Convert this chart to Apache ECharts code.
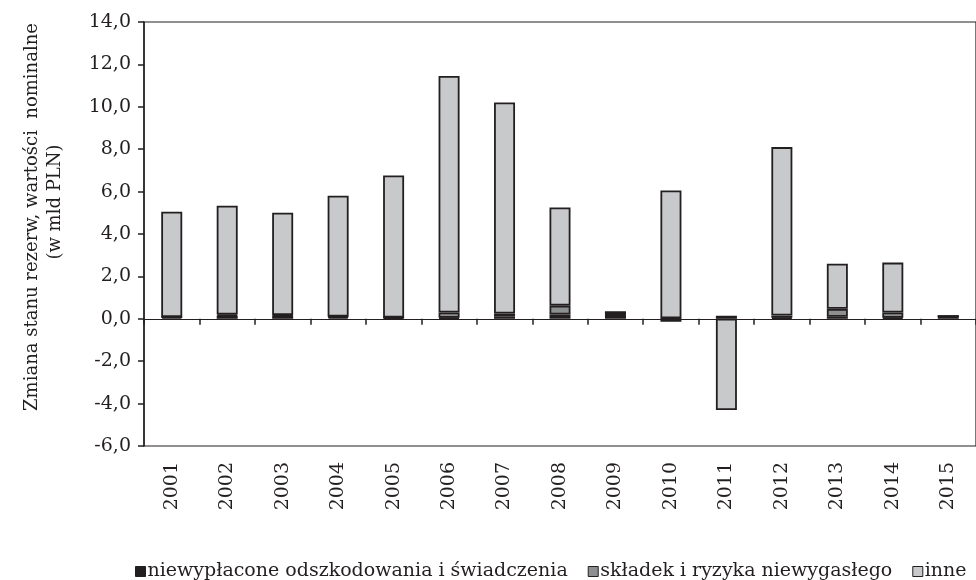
<!DOCTYPE html>
<html>
<head>
<meta charset="utf-8">
<script src="https://cdn.jsdelivr.net/npm/echarts@6/dist/echarts.min.js"></script>
<style>
html,body{margin:0;padding:0;background:#fff;}
#chart{width:976px;height:580px;}
</style>
</head>
<body>
<div id="chart"></div>
<script>
const years = ['2001','2002','2003','2004','2005','2006','2007','2008','2009','2010','2011','2012','2013','2014','2015'];
const niewyplacone = [0.08, 0.15, 0.15, 0.08, 0.06, 0.05, 0.10, 0.20, 0.30, 0.02, 0.10, 0.05, 0.10, 0.05, 0.13];
const skladek = [0.00, 0.05, 0.03, 0.03, 0.00, 0.25, 0.15, 0.42, 0.00, -0.14, 0.00, 0.10, 0.37, 0.25, 0.00];
const inne = [4.97, 5.13, 4.82, 5.70, 6.70, 11.15, 9.95, 4.63, 0.00, 6.03, -4.30, 7.95, 2.13, 2.35, 0.00];
const seriesNames = ['niewypłacone odszkodowania i świadczenia', 'składek i ryzyka niewygasłego', 'inne'];
const yTitle1 = 'Zmiana stanu rezerw, wartości  nominalne';
const yTitle2 = '(w mld PLN)';

const FONT = 'DejaVu Serif';
const FS = 19;
const chart = echarts.init(document.getElementById('chart'), null, {renderer: 'canvas'});

function mk(name, data, color) {
  return {
    name: name, type: 'bar', stack: 'total', data: data,
    xAxisIndex: 0, barWidth: 21,
    itemStyle: {color: color, borderColor: '#231f20', borderWidth: 1.8},
    emphasis: {disabled: true}
  };
}

chart.setOption({
  animation: false,
  backgroundColor: '#fff',
  textStyle: {fontFamily: FONT},
  grid: {left: 144, right: -2, top: 22, bottom: 134, show: true, borderColor: '#231f20', borderWidth: 1.2},
  legend: {
    left: 130, top: 557, itemWidth: 10, itemHeight: 10, itemGap: 20,
    icon: 'rect',
    textStyle: {fontFamily: FONT, fontSize: FS, color: '#231f20', padding: [0,0,0,-3]},
    itemStyle: {borderColor: '#231f20', borderWidth: 1},
    data: seriesNames
  },
  xAxis: [{
    type: 'category', data: years, position: 'bottom',
    axisLine: {onZero: true, lineStyle: {color: '#231f20', width: 1.2}},
    axisTick: {show: true, length: 6, interval: 0, lineStyle: {color: '#231f20', width: 1.5}},
    axisLabel: {show: false},
    splitLine: {show: false}
  }, {
    type: 'category', data: years, position: 'bottom',
    axisLine: {show: false, onZero: false},
    axisTick: {show: false},
    axisLabel: {show: true, rotate: 90, margin: 16, interval: 0, fontFamily: FONT, fontSize: FS, color: '#231f20'},
    splitLine: {show: false}
  }],
  yAxis: {
    type: 'value', min: -6, max: 14, interval: 2,
    axisLine: {show: true, lineStyle: {color: '#231f20', width: 1.5}},
    axisTick: {show: true, length: 6, lineStyle: {color: '#231f20', width: 1.5}},
    axisLabel: {margin: 13, fontFamily: FONT, fontSize: FS, color: '#231f20',
      formatter: v => v.toFixed(1).replace('.', ',')},
    splitLine: {show: false}
  },
  graphic: [
    {type: 'text', x: 32, y: 217, rotation: Math.PI/2,
     style: {text: yTitle1, align: 'center', verticalAlign: 'middle', font: '18px "DejaVu Serif"', fill: '#231f20'}},
    {type: 'text', x: 55, y: 202, rotation: Math.PI/2,
     style: {text: yTitle2, align: 'center', verticalAlign: 'middle', font: '18px "DejaVu Serif"', fill: '#231f20'}}
  ],
  series: [
    mk(seriesNames[0], niewyplacone, '#231f20'),
    mk(seriesNames[1], skladek, '#8e8f91'),
    mk(seriesNames[2], inne, '#c8c9cb')
  ]
});
</script>
</body>
</html>
